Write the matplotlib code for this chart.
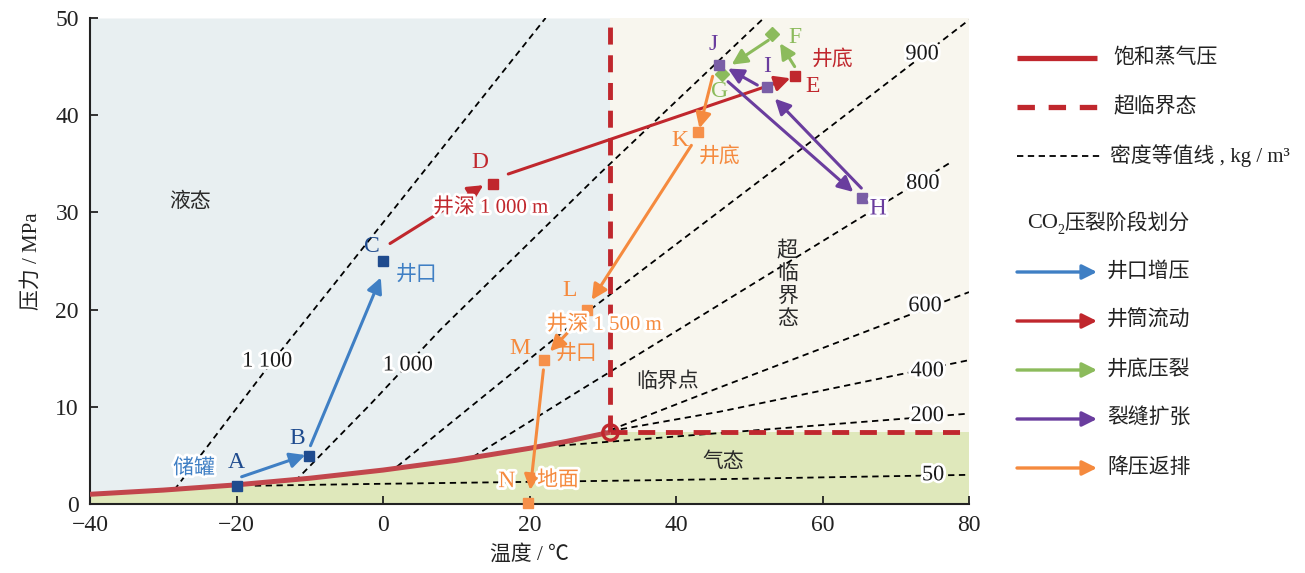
import matplotlib
matplotlib.use('Agg')
import matplotlib.pyplot as plt
import matplotlib.patheffects as pe

plt.rcParams['font.family'] = ['Liberation Serif', 'Noto Sans CJK SC']
plt.rcParams['mathtext.fontset'] = 'stix'
plt.rcParams['axes.unicode_minus'] = True

# ---------------- data ----------------
sat_T = [-40, -30, -20, -10, 0, 10, 20, 25, 31]
sat_P = [1.0, 1.43, 1.97, 2.65, 3.49, 4.50, 5.73, 6.43, 7.38]
crit_T = 31.0
crit_P = 7.38

iso_1100_T = [-28.5, -15.8, -7.0, 22.2]
iso_1100_P = [1.44, 14.0, 22.3, 50.0]
iso_1000_T = [-12.0, -1.8, 7.8, 29.6, 52.0]
iso_1000_P = [2.35, 10.2, 17.9, 34.0, 50.0]
iso_900_T = [1.9, 28.3, 56.9, 80.0]
iso_900_P = [3.84, 20.0, 36.4, 49.8]
iso_800_T = [12.3, 26.9, 77.4]
iso_800_P = [4.85, 11.7, 35.1]
iso_600_T = [24.0, 31.0, 46.0, 80.0]
iso_600_P = [6.0, 7.6, 12.0, 21.8]
iso_400_T = [31.0, 46.0, 80.0]
iso_400_P = [7.5, 9.5, 14.8]
iso_200_T = [24.0, 46.0, 80.0]
iso_200_P = [6.0, 7.3, 9.3]
iso_50_T = [-17.5, -1.8, 39.2, 80.0]
iso_50_P = [1.88, 2.06, 2.47, 3.0]

iso_label_text = ['1 100', '1 000', '900', '800', '600', '400', '200', '50']
iso_label_T = [-15.8, 3.4, 73.6, 73.7, 74.0, 74.3, 74.3, 75.1]
iso_label_P = [14.6, 14.2, 46.2, 32.9, 20.3, 13.6, 9.0, 2.9]

pt_names = ['A', 'B', 'C', 'D', 'E', 'F', 'G', 'J', 'I', 'H', 'K', 'L', 'M', 'N']
pt_T = [-20.0, -10.1, 0.0, 15.0, 56.2, 53.1, 46.3, 45.9, 52.4, 65.4, 43.0, 27.8, 22.0, 19.8]
pt_P = [1.85, 4.9, 25.0, 32.9, 44.0, 48.4, 44.2, 45.2, 42.9, 31.5, 38.3, 20.0, 14.8, 0.1]
pt_stage = [0, 0, 0, 1, 1, 2, 2, 3, 3, 3, 4, 4, 4, 4]
pt_marker = ['s', 's', 's', 's', 's', 'D', 'D', 's', 's', 's', 's', 's', 's', 's']
pt_label_T = [-20.0, -11.7, -1.5, 13.2, 58.6, 56.2, 46.0, 45.05, 52.4, 67.6, 40.5, 25.5, 18.7, 16.9]
pt_label_P = [4.3, 6.7, 26.5, 35.1, 43.0, 48.0, 42.4, 47.3, 45.0, 30.35, 37.4, 22.0, 16.0, 2.3]

arrow_stage = [0, 0, 1, 1, 2, 2, 3, 3, 3, 4, 4, 4, 4]
arrow_tail_T = [-19.3, -9.9, 0.96, 17.1, 56.2, 52.6, 47.1, 65.3, 51.1, 45.0, 42.1, 25.3, 21.9]
arrow_tail_P = [2.8, 6.0, 26.8, 33.95, 45.0, 47.7, 43.45, 32.5, 43.1, 44.0, 36.9, 17.7, 13.8]
arrow_head_T = [-10.6, -0.3, 13.7, 55.6, 54.2, 47.6, 64.2, 53.5, 47.1, 43.2, 28.5, 22.8, 20.1]
arrow_head_P = [5.04, 23.3, 32.8, 43.8, 47.4, 45.2, 32.1, 41.7, 44.8, 38.65, 21.0, 15.7, 1.44]

stage_names = ['井口增压', '井筒流动', '井底压裂', '裂缝扩张', '降压返排']
stage_arrow_colors = ['#3f7fc4', '#c0272d', '#8cbb5c', '#6a3d9e', '#f58a3e']
stage_marker_colors = ['#1f4b8e', '#c0272d', '#8cbb5c', '#7a5ea6', '#f6904a']
stage_label_colors = ['#1f4b8e', '#c0272d', '#8cbb5c', '#6a3d9e', '#f58a3e']

note_text = ['储罐', '井口', '井深 1 000 m', '井底', '井底', '井深 1 500 m', '井口', '地面']
note_T = [-25.8, 4.6, 14.7, 61.4, 46.0, 30.2, 26.5, 23.9]
note_P = [3.6, 23.5, 30.45, 45.7, 35.7, 18.4, 15.4, 2.37]
note_color = ['#3f7fc4', '#3f7fc4', '#c0272d', '#c0272d', '#f58a3e', '#f58a3e', '#f58a3e', '#f58a3e']
note_halo = [True, False, True, False, False, True, False, True]

region_text = ['液态', '临界点', '气态', '超\n临\n界\n态']
region_T = [-26.3, 38.8, 46.4, 55.2]
region_P = [31.0, 12.55, 4.3, 22.5]

# ---------------- colours ----------------
liq_color = '#e8eff1'
sc_color = '#f8f6ee'
gas_color = '#dfe8bb'
sat_color = '#c2464c'
crit_color = '#c0272d'

halo = [pe.withStroke(linewidth=4, foreground='white')]

fig = plt.figure(figsize=(13.05, 5.73), dpi=100)
ax = fig.add_axes([90 / 1305, 1 - 504 / 573, (969 - 90) / 1305, (504 - 18) / 573])
ax.set_xlim(-40, 80)
ax.set_ylim(0, 50)

# regions
ax.fill_between(sat_T, sat_P, 50, color=liq_color, lw=0, zorder=0)
ax.fill_between(sat_T, 0, sat_P, color=gas_color, lw=0, zorder=0)
ax.fill_between([crit_T, 80], crit_P, 50, color=sc_color, lw=0, zorder=0)
ax.fill_between([crit_T, 80], 0, crit_P, color=gas_color, lw=0, zorder=0)

# density isolines
dash = (0, (3.5, 2.5))
for T, P in [(iso_1100_T, iso_1100_P), (iso_1000_T, iso_1000_P), (iso_900_T, iso_900_P),
             (iso_800_T, iso_800_P), (iso_600_T, iso_600_P), (iso_400_T, iso_400_P),
             (iso_200_T, iso_200_P), (iso_50_T, iso_50_P)]:
    ax.plot(T, P, color='black', lw=1.3, linestyle=dash, zorder=2)
for s, t, p in zip(iso_label_text, iso_label_T, iso_label_P):
    ax.text(t, p, s, fontsize=16, ha='center', va='center', color='#1a1a1a',
            path_effects=halo, zorder=3)

# saturation curve and critical lines
ax.plot(sat_T, sat_P, color=sat_color, lw=3.6, zorder=4, solid_capstyle='butt')
crit_dash = (0, (3.5, 2.2))
ax.plot([crit_T, crit_T], [crit_P, 50], color=crit_color, lw=3.5,
        linestyle=crit_dash, zorder=4)
ax.plot([crit_T, 80], [crit_P, crit_P], color=crit_color, lw=3.5,
        linestyle=crit_dash, zorder=4)
ax.plot([crit_T], [crit_P], marker='o', markersize=11, markerfacecolor='none',
        markeredgecolor=crit_color, markeredgewidth=2.4, zorder=5)

# region labels
for s, t, p in zip(region_text, region_T, region_P):
    ax.text(t, p, s, fontsize=15, ha='center', va='center', color='#2a2a2a',
            linespacing=1.25, zorder=3)

# arrows
for st, tx, ty, hx, hy in zip(arrow_stage, arrow_tail_T, arrow_tail_P, arrow_head_T, arrow_head_P):
    ax.annotate('', xy=(hx, hy), xytext=(tx, ty),
                arrowprops=dict(arrowstyle='-|>', color=stage_arrow_colors[st], lw=2.2,
                                mutation_scale=23, shrinkA=0, shrinkB=0),
                zorder=6)

# points
for n, t, p, st, m, lt, lp in zip(pt_names, pt_T, pt_P, pt_stage, pt_marker, pt_label_T, pt_label_P):
    ax.plot([t], [p], marker=m, markersize=7.5 if m == 's' else 7,
            color=stage_marker_colors[st], linestyle='none', zorder=7, clip_on=False)
    ax.text(lt, lp, n, fontsize=17, ha='center', va='center', color=stage_label_colors[st],
            path_effects=halo if n in ('N', 'H') else None, zorder=8)

# notes
for s, t, p, c, h in zip(note_text, note_T, note_P, note_color, note_halo):
    ax.text(t, p, s, fontsize=15, ha='center', va='center', color=c,
            path_effects=halo if h else None, zorder=8)

# axes styling
ax.set_xticks([-40, -20, 0, 20, 40, 60, 80])
ax.set_yticks([0, 10, 20, 30, 40, 50])
ax.tick_params(direction='in', length=6, width=1.3, labelsize=17, pad=8, colors='#222222')
for side in ['top', 'right']:
    ax.spines[side].set_visible(False)
for side in ['left', 'bottom']:
    ax.spines[side].set_linewidth(1.5)
    ax.spines[side].set_color('#222222')
ax.set_xlabel('温度 / ℃', fontsize=15, labelpad=6, color='#222222')
ax.set_ylabel('压力 / MPa', fontsize=15, labelpad=10, color='#222222')

# ---------------- legend (pixel coordinates) ----------------
lg = fig.add_axes([1000 / 1305, 0, 305 / 1305, 1])
lg.set_xlim(1000, 1305)
lg.set_ylim(573, 0)
lg.axis('off')

lg.plot([1017, 1097], [58, 58], color=crit_color, lw=3.8, solid_capstyle='butt')
lg.text(1113, 58, '饱和蒸气压', fontsize=15, va='center', ha='left', color='#222222')
lg.plot([1017, 1097], [107, 107], color=crit_color, lw=3.8, linestyle=(0, (3.3, 2.6)))
lg.text(1113, 107, '超临界态', fontsize=15, va='center', ha='left', color='#222222')
lg.plot([1017, 1100], [156, 156], color='black', lw=1.3, linestyle=dash)
lg.text(1110, 156, '密度等值线 , kg / m³', fontsize=15, va='center', ha='left', color='#222222')
lg.text(1027, 224, 'CO', fontsize=16, va='center', ha='left', color='#222222')
lg.text(1057, 231, '2', fontsize=10, va='center', ha='left', color='#222222')
lg.text(1064, 224, '压裂阶段划分', fontsize=15, va='center', ha='left', color='#222222')
leg_y = [272, 321, 370, 419, 468]
for name, c, y in zip(stage_names, stage_arrow_colors, leg_y):
    lg.annotate('', xy=(1097, y), xytext=(1017, y),
                arrowprops=dict(arrowstyle='-|>', color=c, lw=2.4, mutation_scale=22,
                                shrinkA=0, shrinkB=0))
    lg.text(1107, y, name, fontsize=15, va='center', ha='left', color='#222222')

fig.savefig('out.png', dpi=100)
